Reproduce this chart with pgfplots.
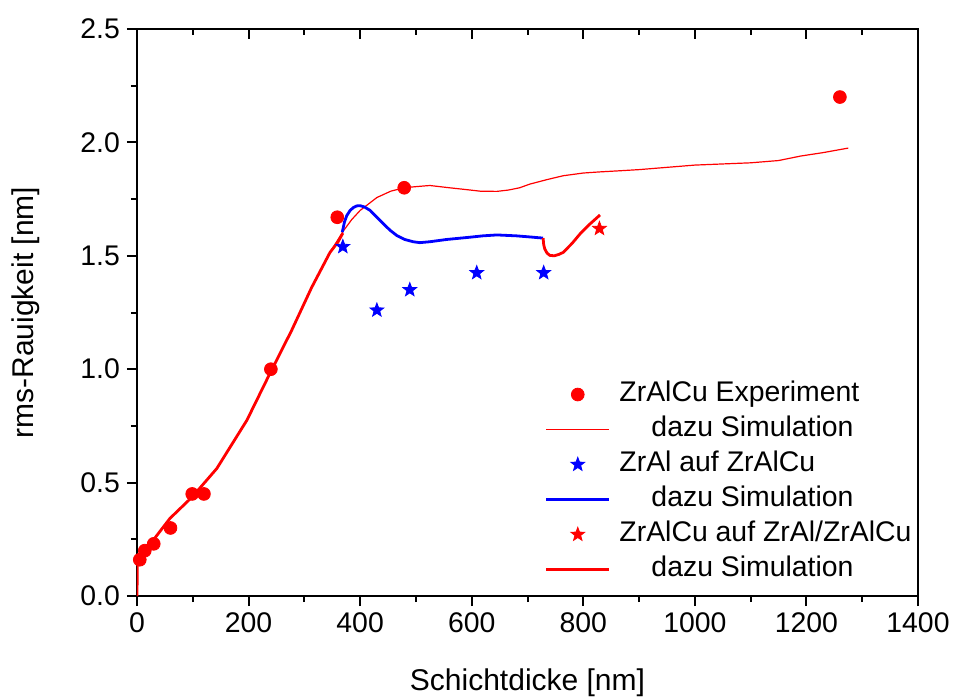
\documentclass[border=0pt]{standalone}
\usepackage{pgfplots}
\pgfplotsset{compat=1.18}
\usepackage{fontspec}
\setmainfont{Liberation Sans}
\usetikzlibrary{plotmarks}
\newcommand{\tf}{\fontsize{14.2}{16}\selectfont}
\newcommand{\lf}{\fontsize{15}{17}\selectfont}
\pgfdeclareplotmark{fstar}{%
  \pgfpathmoveto{\pgfpointpolar{90}{\pgfplotmarksize}}%
  \pgfpathlineto{\pgfpointpolar{126}{0.42\pgfplotmarksize}}%
  \pgfpathlineto{\pgfpointpolar{162}{\pgfplotmarksize}}%
  \pgfpathlineto{\pgfpointpolar{198}{0.42\pgfplotmarksize}}%
  \pgfpathlineto{\pgfpointpolar{234}{\pgfplotmarksize}}%
  \pgfpathlineto{\pgfpointpolar{270}{0.42\pgfplotmarksize}}%
  \pgfpathlineto{\pgfpointpolar{306}{\pgfplotmarksize}}%
  \pgfpathlineto{\pgfpointpolar{342}{0.42\pgfplotmarksize}}%
  \pgfpathlineto{\pgfpointpolar{18}{\pgfplotmarksize}}%
  \pgfpathlineto{\pgfpointpolar{54}{0.42\pgfplotmarksize}}%
  \pgfpathclose
  \pgfusepathqfillstroke}
\begin{document}
\begin{tikzpicture}
\useasboundingbox (-68.5pt,-50.5pt) rectangle (408pt,298pt);
% top axis ticks (inward)
\begin{axis}[
  scale only axis, width=390.5pt, height=283.5pt,
  xmin=0, xmax=1400, ymin=0, ymax=2.5,
  axis x line*=top, axis y line=none,
  xtick={0,200,...,1400}, minor x tick num=1,
  xticklabels={}, tick align=inside,
  major tick length=5pt, minor tick length=3pt,
  every tick/.style={black, line width=1pt},
  axis line style={line width=1pt},
]
\end{axis}
\begin{axis}[
  scale only axis, width=390.5pt, height=283.5pt,
  xmin=0, xmax=1400, ymin=0, ymax=2.5,
  xtick={0,200,...,1400}, ytick={0,0.5,...,2.5},
  minor x tick num=1, minor y tick num=1,
  xtick pos=bottom, ytick pos=left,
  tick align=outside,
  major tick length=5pt, minor tick length=3pt,
  every tick/.style={black, line width=1pt},
  axis line style={line width=1pt},
  tick label style={font=\tf},
  /pgf/number format/assume math mode=true,
  /pgf/number format/1000 sep={},
  yticklabel style={/pgf/number format/fixed, /pgf/number format/fixed zerofill, /pgf/number format/precision=1},
  xlabel={Schichtdicke [nm]}, ylabel={rms-Rauigkeit [nm]},
  label style={font=\lf},
  xlabel style={at={(axis description cs:0.5,-0.153)}, anchor=center},
  ylabel style={at={(axis description cs:-0.143,0.5)}, anchor=center},
  legend cell align=left,
  legend style={draw=none, fill=none, font=\tf,
    at={(axis description cs:0.522,0.379)}, anchor=north west,
    nodes={inner sep=0pt, text height=10pt, text depth=3pt},
    row sep=4.5pt, inner sep=0pt},
  /tikz/every odd column/.append style={column sep=4.5pt},
  legend image code/.code={\draw[mark repeat=2,mark phase=2,#1] plot coordinates {(0cm,0cm) (0.55cm,0cm) (1.1cm,0cm)};},
]
% ZrAlCu experiment
\addplot[only marks, mark=*, mark size=3.2pt, color=red] coordinates {
(5,0.16) (14,0.20) (30,0.23) (60,0.30) (99,0.45) (120,0.45) (240,1.0) (359,1.67) (479,1.80) (1260,2.2)};
\addlegendentry{ZrAlCu Experiment}
% thin red simulation
\addplot[red, line width=0.6pt, mark=none] coordinates {
(0,0) (0.5,0.13) (3,0.17) (10,0.2) (29,0.246) (59,0.342) (99,0.437) (143,0.562) (197,0.775) (238,0.98) (277,1.17) (313,1.36) (346,1.515) (370,1.61) (385,1.66) (400,1.70) (430,1.757) (455,1.785) (479,1.80) (500,1.805) (525,1.81) (560,1.80) (590,1.792) (615,1.785) (645,1.784) (666,1.79) (686,1.80) (704,1.816) (735,1.836) (764,1.853) (800,1.865) (830,1.870) (866,1.875) (900,1.88) (950,1.89) (1000,1.90) (1050,1.905) (1100,1.91) (1150,1.92) (1190,1.94) (1230,1.955) (1275,1.975)};
\addlegendentry{\hspace*{16pt}dazu Simulation}
% ZrAl auf ZrAlCu
\addplot[only marks, mark=fstar, mark size=3.6pt, color=blue, mark options={fill=blue, line width=0.4pt}] coordinates {
(369,1.54) (430,1.26) (489,1.35) (609,1.425) (729,1.425)};
\addlegendentry{ZrAl auf ZrAlCu}
\addplot[blue, line width=1.4pt, mark=none] coordinates {
(368,1.604) (372,1.65) (376,1.677) (382,1.70) (388,1.713) (394,1.72) (400,1.721) (408,1.715) (418,1.70) (430,1.67) (442,1.64) (454,1.612) (466,1.589) (480,1.572) (495,1.562) (507,1.558) (525,1.562) (555,1.572) (597,1.582) (620,1.588) (645,1.592) (680,1.588) (705,1.583) (728,1.578)};
\addlegendentry{\hspace*{16pt}dazu Simulation}
% ZrAlCu auf ZrAl/ZrAlCu
\addplot[only marks, mark=fstar, mark size=3.6pt, color=red, mark options={fill=red, line width=0.4pt}] coordinates {(829,1.62)};
\addlegendentry{ZrAlCu auf ZrAl/ZrAlCu}
\addplot[red, line width=1.4pt, mark=none] coordinates {
(728,1.578) (729,1.55) (731,1.53) (735,1.512) (740,1.502) (748,1.500) (756,1.506) (764,1.515) (780,1.555) (794,1.596) (810,1.636) (830,1.68)};
\addlegendentry{\hspace*{16pt}dazu Simulation}
% thick red first layer
\addplot[red, line width=1.4pt, mark=none, forget plot] coordinates {
(0,0) (0.5,0.13) (3,0.17) (10,0.2) (29,0.246) (59,0.342) (99,0.437) (143,0.562) (197,0.775) (238,0.98) (277,1.17) (313,1.36) (346,1.515) (360,1.56) (369,1.60)};
\end{axis}
\end{tikzpicture}
\end{document}
